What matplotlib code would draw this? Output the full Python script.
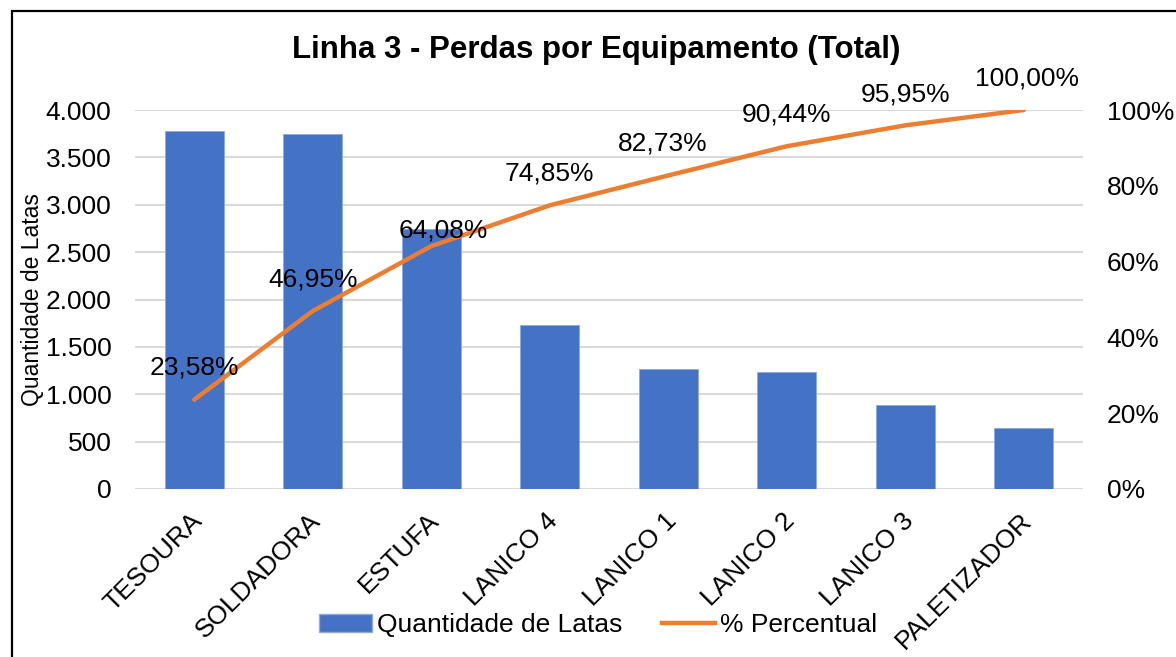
import matplotlib
matplotlib.use("Agg")
import matplotlib.pyplot as plt
from matplotlib.patches import Rectangle
from matplotlib.lines import Line2D
from matplotlib.ticker import FuncFormatter, FixedLocator
from matplotlib.transforms import ScaledTranslation

categories = ["TESOURA", "SOLDADORA", "ESTUFA", "LANICO 4", "LANICO 1",
              "LANICO 2", "LANICO 3", "PALETIZADOR"]
quantidade = [3778, 3744, 2745, 1726, 1263, 1235, 883, 649]
percentual = [23.58, 46.95, 64.08, 74.85, 82.73, 90.44, 95.95, 100.00]
pct_labels = ["23,58%", "46,95%", "64,08%", "74,85%", "82,73%", "90,44%", "95,95%", "100,00%"]
left_ticks = [0, 500, 1000, 1500, 2000, 2500, 3000, 3500, 4000]
right_ticks = [0, 20, 40, 60, 80, 100]

plt.rcParams['font.family'] = ['Liberation Sans', 'DejaVu Sans']
FS = 19

fig = plt.figure(figsize=(11.76, 6.57), dpi=100)
ax = fig.add_axes([135/1176, 1 - 489/657, (1083-135)/1176, (489-110)/657])
x = list(range(len(categories)))

ax.bar(x, quantidade, width=0.5, color='#4472C4', edgecolor='#8FAADC', linewidth=0.6, zorder=2)
ax.set_xlim(-0.5, len(categories) - 0.5)
ax.set_ylim(0, 4000)
ax.yaxis.set_major_locator(FixedLocator(left_ticks))
ax.yaxis.set_major_formatter(FuncFormatter(lambda v, p: f"{int(v):,}".replace(",", ".")))
ax.grid(axis='y', color='#D9D9D9', linewidth=1.5, zorder=0)
ax.set_axisbelow(True)
for s in ax.spines.values():
    s.set_visible(False)
ax.tick_params(axis='both', length=0, labelsize=FS, colors='#000000')
ax.tick_params(axis='y', pad=17)
ax.set_xticks(x)
ax.set_xticklabels(categories, rotation=45, ha='right', rotation_mode='anchor', fontsize=FS)
ax.tick_params(axis='x', pad=14)
shift = ScaledTranslation(-4/100, 0, fig.dpi_scale_trans)
for lab in ax.get_xticklabels():
    lab.set_transform(lab.get_transform() + shift)
ax.set_ylabel("Quantidade de Latas", fontsize=16.5)
ax.yaxis.set_label_coords((44 - 135)/(1083-135), 0.5)

ax2 = ax.twinx()
ax2.plot(x, percentual, color='#ED7D31', linewidth=3.2, solid_capstyle='round', zorder=3)
ax2.set_ylim(0, 100)
ax2.yaxis.set_major_locator(FixedLocator(right_ticks))
ax2.yaxis.set_major_formatter(FuncFormatter(lambda v, p: f"{int(v)}%"))
ax2.tick_params(axis='y', length=0, labelsize=FS, pad=17)
for s in ax2.spines.values():
    s.set_visible(False)

offsets = [(0, 23), (0, 23), (9, 11), (0, 23), (-4, 23), (0, 23), (0, 22), (2, 23)]
for xi, yi, lab, off in zip(x, percentual, pct_labels, offsets):
    ax2.annotate(lab, (xi, yi), xytext=off, textcoords='offset points',
                 ha='center', va='center', fontsize=FS, color='#000000', zorder=4)

fig.text(596/1176, 1 - 50/657, "Linha 3 - Perdas por Equipamento (Total)", ha='center', va='center',
         fontsize=22.5, fontweight='bold')

handles = [Rectangle((0, 0), 1, 1, facecolor='#4472C4', edgecolor='#8FAADC'),
           Line2D([0], [0], color='#ED7D31', linewidth=3.2)]
fig.legend(handles, ["Quantidade de Latas", "% Percentual"], loc='center',
           bbox_to_anchor=(598/1176, 1 - 625/657), ncol=2, frameon=False, fontsize=FS,
           handlelength=2.0, handletextpad=0.2, columnspacing=1.5, borderpad=0)

fig.patches.append(Rectangle((12/1176, -0.05), 1.2, 1 - 11/657 + 0.05, transform=fig.transFigure,
                             fill=False, edgecolor='black', linewidth=1.6))

fig.savefig("out.png", dpi=100)
